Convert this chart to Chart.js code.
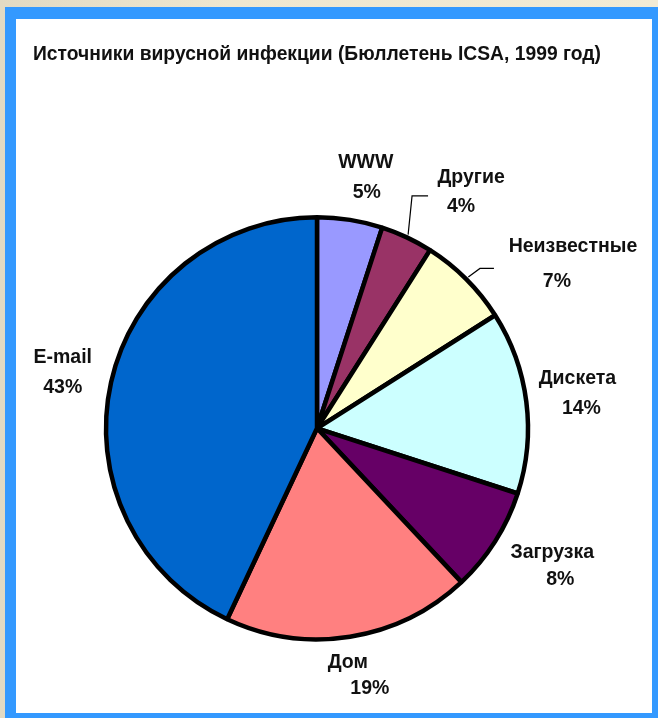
<!DOCTYPE html>
<html>
<head>
<meta charset="utf-8">
<script src="https://cdn.jsdelivr.net/npm/chart.js@4.4.0/dist/chart.umd.min.js"></script>
<style>
  html, body { margin:0; padding:0; }
  body { width:658px; height:718px; overflow:hidden; position:relative;
         background: linear-gradient(to right, #e2dac3, #efe7d0 35%, #f2ebd5); }
  #frame { position:absolute; left:5px; top:7px; right:0; bottom:0; background:#3399ff; }
  #panel { position:absolute; left:16px; top:19px; width:636px; height:694px; background:#fff; }
  canvas { display:block; }
</style>
</head>
<body>
<div id="frame"></div>
<div id="panel"><canvas id="myChart" width="636" height="694"></canvas></div>
<script>
var TitleText = 'Источники вирусной инфекции (Бюллетень ICSA, 1999 год)';
var Sources = ['WWW', 'Другие', 'Неизвестные', 'Дискета', 'Загрузка', 'Дом', 'E-mail'];
var Shares = [5, 4, 7, 14, 8, 19, 43];
var SliceColors = ['#9999ff', '#993366', '#ffffcc', '#ccffff', '#660066', '#ff8080', '#0066cc'];

// label placement (distance from centre, angle shift in deg, % line offset)
var LblDist = [270, 294, 314, 265, 266, 236, 264];
var LblShift = [1.4, 6.4, 9.6, -3.5, -4.6, 1.5, 3];
var PctDx = [1, -10, -16, 4, 8, 22, 0];
var PctDy = [30, 29, 35, 30, 27, 26, 30];
// leader lines: [elbow dx, elbow dy, end dx, end dy] relative to name label
var Leaders = [null, [-59, 18, -43, 18], [-93, 22, -79, 22], null, null, null, null];

const pieLabels = {
  id: 'pieLabels',
  afterDatasetsDraw(chart) {
    const c = chart.ctx;
    const meta = chart.getDatasetMeta(0);
    c.save();
    c.font = 'bold 19.5px "Liberation Sans", Arial, sans-serif';
    c.fillStyle = '#111';
    c.textAlign = 'center';
    c.textBaseline = 'middle';
    meta.data.forEach((arc, i) => {
      const p = arc.getProps(['x', 'y', 'startAngle', 'endAngle', 'outerRadius'], true);
      const mid = (p.startAngle + p.endAngle) / 2;
      const a = mid + LblShift[i] * Math.PI / 180;
      const lx = p.x + Math.cos(a) * LblDist[i];
      const ly = p.y + Math.sin(a) * LblDist[i];
      c.fillText(Sources[i], lx, ly);
      c.fillText(Shares[i] + '%', lx + PctDx[i], ly + PctDy[i]);
      if (Leaders[i]) {
        const L = Leaders[i];
        c.beginPath();
        c.lineWidth = 1.2;
        c.strokeStyle = '#000';
        c.moveTo(p.x + Math.cos(mid) * (p.outerRadius + 3), p.y + Math.sin(mid) * (p.outerRadius + 3));
        c.lineTo(lx + L[0], ly + L[1]);
        c.lineTo(lx + L[2], ly + L[3]);
        c.stroke();
      }
    });
    c.restore();
  }
};

var ctx = document.getElementById('myChart');
const config = {
  type: 'pie',
  data: {
    labels: Sources,
    datasets: [{
      data: Shares,
      backgroundColor: SliceColors,
      borderColor: '#000',
      borderWidth: 4.5,
      radius: 211
    }]
  },
  options: {
    responsive: false,
    animation: false,
    layout: { padding: { top: 8, left: 17, right: 51, bottom: 59 } },
    plugins: {
      legend: { display: false },
      tooltip: { enabled: false },
      title: {
        display: true,
        text: TitleText,
        align: 'start',
        color: '#111',
        font: { family: '"Liberation Sans", Arial, sans-serif', size: 20.5, weight: 'bold' },
        padding: { top: 15, bottom: 136 }
      }
    }
  },
  plugins: [pieLabels]
};

var chart = new Chart(ctx, config);
</script>
</body>
</html>
